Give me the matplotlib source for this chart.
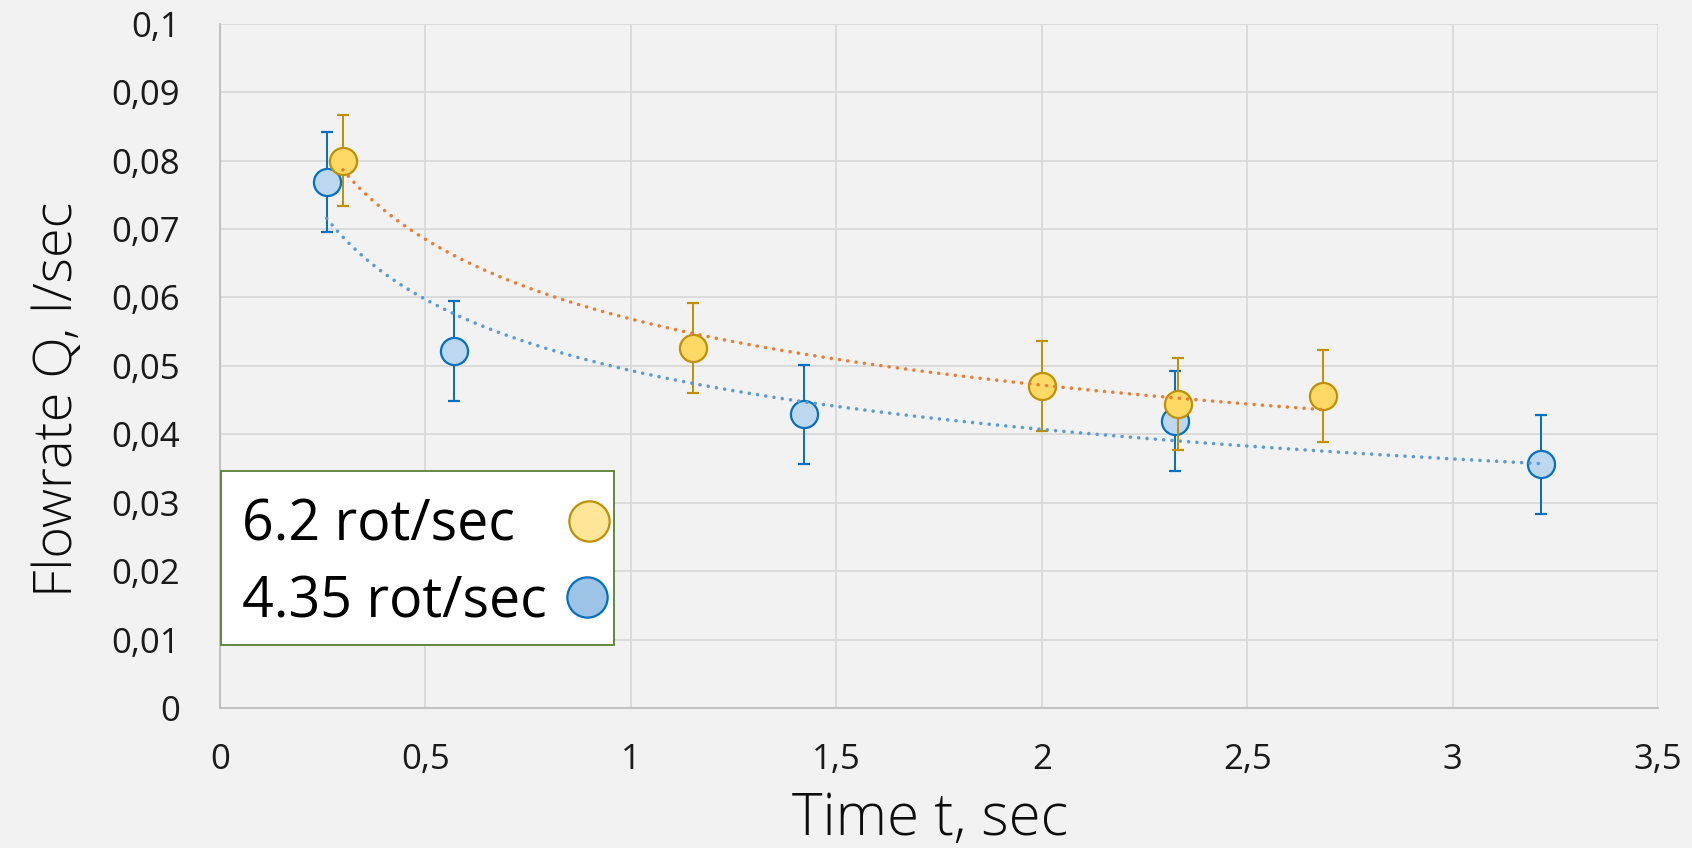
import matplotlib.pyplot as plt
import numpy as np
from matplotlib.lines import Line2D
from matplotlib.patches import Rectangle

# 6.2 rot/sec series
t_fast = [0.299, 1.15, 2.0, 2.331, 2.684]
q_fast = [0.0800, 0.0526, 0.0471, 0.0444, 0.0456]
err_fast = [0.0067, 0.0066, 0.0066, 0.0067, 0.0067]

# 4.35 rot/sec series
t_slow = [0.260, 0.570, 1.421, 2.323, 3.214]
q_slow = [0.0769, 0.0522, 0.0429, 0.0420, 0.0356]
err_slow = [0.0073, 0.0073, 0.0072, 0.0073, 0.0072]

labels = ['6.2 rot/sec', '4.35 rot/sec']
xticks = [0, 0.5, 1, 1.5, 2, 2.5, 3, 3.5]
yticks = [0, 0.01, 0.02, 0.03, 0.04, 0.05, 0.06, 0.07, 0.08, 0.09, 0.1]

bg = '#F2F2F2'
plt.rcParams['font.family'] = ['Open Sans', 'DejaVu Sans']

fig = plt.figure(figsize=(16.92, 8.48), dpi=100, facecolor=bg)
ax = fig.add_axes([0.130, 0.165, 0.850, 0.807])
ax.set_facecolor(bg)


def power_fit(x, y):
    # excel-style power trendline, y = a * x^b
    b, lna = np.polyfit(np.log(x), np.log(y), 1)
    xs = np.linspace(min(x), max(x), 200)
    return xs, np.exp(lna) * xs ** b


# blue series first, yellow on top
ax.errorbar(t_slow, q_slow, yerr=err_slow, fmt='o', ms=19.5, mfc='#BDD7EE',
            mec='#0070C0', mew=1.6, ecolor='#0070C0', elinewidth=1.4,
            capsize=4.5, capthick=1.4, zorder=3)
ax.errorbar(t_fast, q_fast, yerr=err_fast, fmt='o', ms=19.5, mfc='#FFD966',
            mec='#BF9000', mew=1.6, ecolor='#BF9000', elinewidth=1.4,
            capsize=4.5, capthick=1.4, zorder=4)

xs, ys = power_fit(t_fast, q_fast)
ax.plot(xs, ys, color='#ED7D31', lw=2.6, ls=(0, (0.01, 2.3)),
        dash_capstyle='round', zorder=5)
xs, ys = power_fit(t_slow, q_slow)
ax.plot(xs, ys, color='#5B9BD5', lw=2.6, ls=(0, (0.01, 2.3)),
        dash_capstyle='round', zorder=5)

ax.set_xlim(0, 3.5)
ax.set_ylim(0, 0.1)
ax.set_xticks(xticks)
ax.set_yticks(yticks)
ax.set_xticklabels([('%g' % v).replace('.', ',') for v in xticks])
ax.set_yticklabels([('%g' % v).replace('.', ',') for v in yticks])
ax.tick_params(length=0, labelsize=25, colors='#1A1A1A')
ax.tick_params(axis='x', pad=25)
ax.tick_params(axis='y', pad=29)

ax.grid(True, color='#D9D9D9', lw=1.3)
ax.set_axisbelow(True)
for s in ['top', 'right']:
    ax.spines[s].set_visible(False)
for s in ['left', 'bottom']:
    ax.spines[s].set_color('#BFBFBF')
    ax.spines[s].set_linewidth(1.3)

# axis titles
fig.text(930 / 1692, 1 - 835 / 848, 'Time t, sec', fontsize=42, fontweight='light',
         ha='center', va='baseline', color='#0D0D0D')
fig.text(72 / 1692, 1 - 399 / 848, 'Flowrate Q, l/sec', fontsize=39, fontweight='light',
         rotation=90, rotation_mode='anchor', ha='center', va='baseline',
         color='#0D0D0D')

# legend box drawn in axes coordinates
ax.add_patch(Rectangle((0.0005, 0.0921), 0.2735, 0.2544, transform=ax.transAxes,
                       facecolor='white', edgecolor='#548235', lw=1.3, zorder=6))
ax.text(0.0151, 0.2456, labels[0], transform=ax.transAxes, fontsize=40,
        va='baseline', ha='left', color='black', zorder=7)
ax.text(0.0151, 0.1330, labels[1], transform=ax.transAxes, fontsize=40,
        va='baseline', ha='left', color='black', zorder=7)
ax.add_line(Line2D([0.2566], [0.2734], transform=ax.transAxes, ls='none',
                   marker='o', ms=29, mfc='#FFE699', mec='#BF9000', mew=1.6, zorder=7))
ax.add_line(Line2D([0.2552], [0.1623], transform=ax.transAxes, ls='none',
                   marker='o', ms=29, mfc='#9DC3E6', mec='#0070C0', mew=1.6, zorder=7))

plt.savefig('out.png', dpi=100, facecolor=bg)
